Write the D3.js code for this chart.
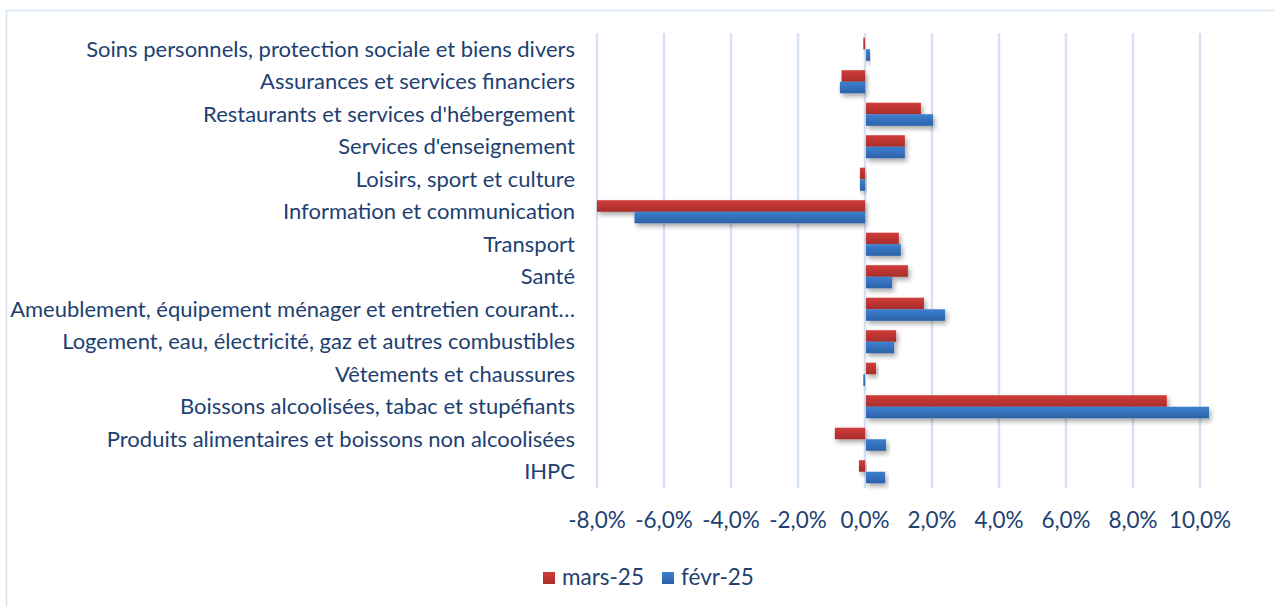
<!DOCTYPE html>
<html>
<head>
<meta charset="utf-8">
<script src="https://cdn.jsdelivr.net/npm/d3@7"></script>
<style>
    body { margin: 0; background: #fff; }
    svg { display: block; }
</style>
</head>
<body>
<div id="chart"></div>
<script>
// catégories, de haut en bas
const categories = [
    "Soins personnels, protection sociale et biens divers",
    "Assurances et services financiers",
    "Restaurants et services d'hébergement",
    "Services d'enseignement",
    "Loisirs, sport et culture",
    "Information et communication",
    "Transport",
    "Santé",
    "Ameublement, équipement ménager et entretien courant…",
    "Logement, eau, électricité, gaz et autres combustibles",
    "Vêtements et chaussures",
    "Boissons alcoolisées, tabac et stupéfiants",
    "Produits alimentaires et boissons non alcoolisées",
    "IHPC"
];
const seriesNames = ["mars-25", "févr-25"];
const mars25 = [-0.05, -0.7, 1.64, 1.16, -0.15, -8.0, 0.98, 1.25, 1.73, 0.9, 0.3, 8.98, -0.9, -0.18];
const fevr25 = [0.12, -0.75, 2.0, 1.16, -0.15, -6.88, 1.04, 0.78, 2.36, 0.84, -0.05, 10.24, 0.6, 0.57];
const tickValues = [-8, -6, -4, -2, 0, 2, 4, 6, 8, 10];

const width = 1274, height = 607;
const textColor = "#213f70";
const fontFamily = "Lato, 'Open Sans', sans-serif";

let svg = d3.select("#chart").append("svg")
    .attr("width", width)
    .attr("height", height);

// dégradés + ombre
let defs = svg.append("defs");
function gradient(id, c1, c2) {
    let g = defs.append("linearGradient").attr("id", id)
        .attr("x1", 0).attr("y1", 0).attr("x2", 0).attr("y2", 1);
    g.append("stop").attr("offset", "0%").attr("stop-color", c1);
    g.append("stop").attr("offset", "100%").attr("stop-color", c2);
}
gradient("gRed", "#d23c3a", "#a82d2b");
gradient("gBlue", "#3c7fd0", "#2d62a8");
let f = defs.append("filter").attr("id", "shadow")
    .attr("x", "-10%").attr("y", "-40%").attr("width", "130%").attr("height", "200%");
f.append("feDropShadow").attr("dx", 2).attr("dy", 3).attr("stdDeviation", 2.5)
    .attr("flood-color", "#000").attr("flood-opacity", 0.35);

// cadre
svg.append("rect")
    .attr("x", 6.5).attr("y", 10.5)
    .attr("width", 1300).attr("height", 700)
    .attr("fill", "#fff")
    .attr("stroke", "#d6e2f2")
    .attr("stroke-width", 1.5);

let x = d3.scaleLinear().domain([-8, 10]).range([597, 1200]);
let y = d3.scaleBand().domain(categories).range([33, 488]).paddingInner(0.29).paddingOuter(0.145);
let ySub = d3.scaleBand().domain(seriesNames).range([0, y.bandwidth()]);

// grille
svg.append("g").selectAll("line")
    .data(tickValues)
    .join("line")
    .attr("x1", d => x(d)).attr("x2", d => x(d))
    .attr("y1", 33).attr("y2", 488)
    .attr("stroke", "#d6e2f2")
    .attr("stroke-width", 2.5);

// libellés des catégories
let labels = svg.append("g")
    .attr("font-family", fontFamily)
    .attr("fill", textColor)
    .attr("text-anchor", "end");
let fontSize = 20;
labels.selectAll("text")
    .data(categories)
    .join("text")
    .attr("x", 575)
    .attr("y", d => y(d) + y.bandwidth() / 2)
    .attr("dy", "0.35em")
    .attr("font-size", fontSize)
    .text(d => d);
// ajuster la taille pour que le plus long libellé tienne dans la largeur
let maxW = d3.max(labels.selectAll("text").nodes(), n => n.getComputedTextLength());
fontSize = fontSize * 565 / maxW;
labels.selectAll("text").attr("font-size", fontSize);

// barres
let data = [];
categories.forEach((c, i) => {
    data.push({cat: c, serie: seriesNames[0], v: mars25[i]});
    data.push({cat: c, serie: seriesNames[1], v: fevr25[i]});
});
svg.append("g").selectAll("rect")
    .data(data)
    .join("rect")
    .attr("x", d => d.v < 0 ? x(d.v) : x(0) + 1)
    .attr("y", d => y(d.cat) + ySub(d.serie))
    .attr("width", d => Math.abs(x(d.v) - x(0)))
    .attr("height", ySub.bandwidth())
    .attr("fill", d => d.serie === seriesNames[0] ? "url(#gRed)" : "url(#gBlue)")
    .attr("filter", "url(#shadow)");

// axe x (tiret simple comme signe moins)
svg.append("g")
    .attr("font-family", fontFamily)
    .attr("fill", textColor)
    .attr("text-anchor", "middle")
    .selectAll("text")
    .data(tickValues)
    .join("text")
    .attr("x", d => x(d))
    .attr("y", 528)
    .attr("font-size", fontSize + 0.5)
    .text(d => d.toFixed(1).replace(".", ",") + "%");

// légende
let legend = svg.append("g")
    .attr("font-family", fontFamily)
    .attr("font-size", fontSize + 0.5);
let lx = [543, 662];
seriesNames.forEach((s, i) => {
    legend.append("rect")
        .attr("x", lx[i]).attr("y", 572)
        .attr("width", 12).attr("height", 12)
        .attr("fill", i === 0 ? "url(#gRed)" : "url(#gBlue)");
    legend.append("text")
        .attr("x", lx[i] + 19).attr("y", 585)
        .attr("fill", textColor)
        .text(s);
});
</script>
</body>
</html>
